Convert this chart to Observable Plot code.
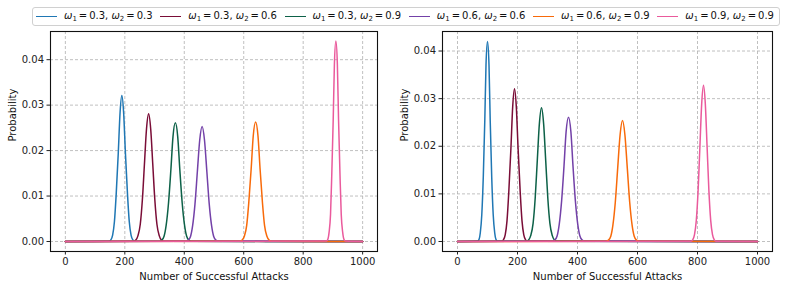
<!DOCTYPE html>
<html>
<head>
<meta charset="utf-8">
<script src="https://cdn.jsdelivr.net/npm/d3@7"></script>
<script src="https://cdn.jsdelivr.net/npm/@observablehq/plot@0.6"></script>
<style>
  html, body { margin: 0; padding: 0; background: #fff; }
  body { width: 789px; height: 289px; position: relative; overflow: hidden; font-family: "DejaVu Sans", sans-serif; }
  #legend { position: absolute; z-index: 5; left: 32px; top: 7px; width: 748px; height: 19px; box-sizing: border-box; border: 1px solid #d0d0d0; border-radius: 3px; display: flex; align-items: center; justify-content: space-between; padding: 0 5px 0 3px; font-size: 10px; color: #111; white-space: nowrap; background: #fff; overflow: hidden; }
  .entry { display: flex; align-items: center; }
  .sw { width: 21px; height: 0; border-top: 1.5px solid; margin-right: 7px; }
  .entry i { font-family: "DejaVu Sans", sans-serif; font-style: italic; }
  .entry sub { font-size: 7px; vertical-align: -2px; }
  #left, #right { position: absolute; top: 0; z-index: 1; }
  #left { left: 0; }
  #right { left: 394px; }
</style>
</head>
<body>
<div id="legend"></div>
<div id="left"></div>
<div id="right"></div>
<script>
// Series labels (omega1, omega2) and colours
const omega1 = ["0.3", "0.3", "0.3", "0.6", "0.6", "0.9"];
const omega2 = ["0.3", "0.6", "0.9", "0.6", "0.9", "0.9"];
const colors = ["#1f77b4", "#7a0d37", "#0d6148", "#7341a8", "#f86a0a", "#ea5a9c"];
const xTicks = [0, 200, 400, 600, 800, 1000];
const yTicks = [0, 0.01, 0.02, 0.03, 0.04];

// Left panel: sample points (x = successful attacks, y = probability)
const L1x = [0, 147,153,159,165,171,178,184,190,196,202,209,215,221,227,233, 1000];
const L1y = [0, 0.00007,0.00036,0.00141,0.00434,0.01042,0.01947,0.02833,0.0321,0.02833,0.01947,0.01042,0.00434,0.00141,0.00036,0.00007, 0];
const L2x = [0, 230,237,244,252,259,266,273,280,287,294,301,308,316,323,330, 1000];
const L2y = [0, 0.00006,0.00031,0.00123,0.0038,0.00912,0.01704,0.0248,0.0281,0.0248,0.01704,0.00912,0.0038,0.00123,0.00031,0.00006, 0];
const L3x = [0, 317,324,332,339,347,355,362,370,378,385,393,401,408,416,423, 1000];
const L3y = [0, 0.00006,0.00029,0.00115,0.00353,0.00847,0.01583,0.02303,0.0261,0.02303,0.01583,0.00847,0.00353,0.00115,0.00029,0.00006, 0];
const L4x = [0, 405,413,421,428,436,444,452,460,468,476,484,492,499,507,515, 1000];
const L4y = [0, 0.00006,0.00028,0.00111,0.00342,0.00821,0.01534,0.02233,0.0253,0.02233,0.01534,0.00821,0.00342,0.00111,0.00028,0.00006, 0];
const L5x = [0, 587,594,602,610,617,625,632,640,648,655,663,670,678,686,693, 1000];
const L5y = [0, 0.00006,0.00029,0.00115,0.00356,0.00854,0.01595,0.02321,0.0263,0.02321,0.01595,0.00854,0.00356,0.00115,0.00029,0.00006, 0];
const L6x = [0, 878,883,887,892,896,901,905,910,915,919,924,928,933,937,942, 1000];
const L6y = [0, 0.0001,0.00049,0.00194,0.00597,0.01432,0.02675,0.03892,0.0441,0.03892,0.02675,0.01432,0.00597,0.00194,0.00049,0.0001, 0];

// Right panel
const R1x = [0, 67,72,76,81,86,91,95,100,105,109,114,119,124,128,133, 1000];
const R1y = [0, 0.00009,0.00047,0.00184,0.00568,0.01364,0.02547,0.03707,0.042,0.03707,0.02547,0.01364,0.00568,0.00184,0.00047,0.00009, 0];
const R2x = [0, 147,153,159,165,171,178,184,190,196,202,209,215,221,227,233, 1000];
const R2y = [0, 0.00007,0.00036,0.00141,0.00434,0.01042,0.01947,0.02833,0.0321,0.02833,0.01947,0.01042,0.00434,0.00141,0.00036,0.00007, 0];
const R3x = [0, 230,237,244,252,259,266,273,280,287,294,301,308,316,323,330, 1000];
const R3y = [0, 0.00006,0.00031,0.00123,0.0038,0.00912,0.01704,0.0248,0.0281,0.0248,0.01704,0.00912,0.0038,0.00123,0.00031,0.00006, 0];
const R4x = [0, 317,324,332,339,347,355,362,370,378,385,393,401,408,416,423, 1000];
const R4y = [0, 0.00006,0.00029,0.00115,0.00353,0.00847,0.01583,0.02303,0.0261,0.02303,0.01583,0.00847,0.00353,0.00115,0.00029,0.00006, 0];
const R5x = [0, 495,503,511,518,526,534,542,550,558,566,574,582,589,597,605, 1000];
const R5y = [0, 0.00006,0.00028,0.00112,0.00344,0.00825,0.0154,0.02242,0.0254,0.02242,0.0154,0.00825,0.00344,0.00112,0.00028,0.00006, 0];
const R6x = [0, 778,784,790,796,802,808,814,820,826,832,838,844,850,856,862, 1000];
const R6y = [0, 0.00007,0.00036,0.00144,0.00444,0.01065,0.01989,0.02895,0.0328,0.02895,0.01989,0.01065,0.00444,0.00144,0.00036,0.00007, 0];

const leftSeries = [[L1x, L1y], [L2x, L2y], [L3x, L3y], [L4x, L4y], [L5x, L5y], [L6x, L6y]];
const rightSeries = [[R1x, R1y], [R2x, R2y], [R3x, R3y], [R4x, R4y], [R5x, R5y], [R6x, R6y]];

// Legend
const legend = document.getElementById("legend");
omega1.forEach((w1, i) => {
  const e = document.createElement("div");
  e.className = "entry";
  e.innerHTML = `<span class="sw" style="border-color:${colors[i]}"></span><span><i>ω</i><sub>1</sub>&thinsp;=&thinsp;${w1}, <i>ω</i><sub>2</sub>&thinsp;=&thinsp;${omega2[i]}</span>`;
  legend.appendChild(e);
});

function panel(series, yDomain, width, mLeft) {
  const rows = [];
  series.forEach(([xs, ys], i) => xs.forEach((x, j) => rows.push({s: i, x, y: ys[j]})));
  return Plot.plot({
    width, height: 289,
    marginLeft: mLeft, marginRight: 17, marginTop: 31, marginBottom: 38,
    style: {fontFamily: "DejaVu Sans, sans-serif", fontSize: "10px", color: "#222", background: "transparent"},
    x: {domain: [-50, 1050], ticks: xTicks, tickFormat: d => String(d), label: null, tickSize: 3.5, tickPadding: 3},
    y: {domain: yDomain, ticks: yTicks, tickFormat: d3.format(".2f"), label: null, tickSize: 3.5, tickPadding: 3},
    marks: [
      Plot.ruleX(xTicks, {stroke: "#b0b0b0", strokeDasharray: "3,2", strokeWidth: 0.8}),
      Plot.ruleY(yTicks, {stroke: "#b0b0b0", strokeDasharray: "3,2", strokeWidth: 0.8}),
      Plot.line(rows, {x: "x", y: "y", z: "s", stroke: d => colors[d.s], strokeWidth: 1.5, curve: "monotone-x"}),
      Plot.frame({stroke: "#111", strokeWidth: 1.1}),
      Plot.axisX({ticks: xTicks, tickFormat: d => String(d), tickSize: 3.5, tickPadding: 3, label: null, fontSize: 10}),
      Plot.axisY({ticks: yTicks, tickFormat: d3.format(".2f"), tickSize: 3.5, tickPadding: 3, label: null, fontSize: 10}),
      Plot.text(["Number of Successful Attacks"], {frameAnchor: "bottom", dy: 28, fontSize: 10, fill: "#111"}),
      Plot.text(["Probability"], {frameAnchor: "left", dx: -38, rotate: -90, fontSize: 10, fill: "#111"})
    ]
  });
}

document.getElementById("left").appendChild(panel(leftSeries, [-0.0022, 0.0462], 394, 50));
document.getElementById("right").appendChild(panel(rightSeries, [-0.0021, 0.0441], 395, 48));
</script>
</body>
</html>
